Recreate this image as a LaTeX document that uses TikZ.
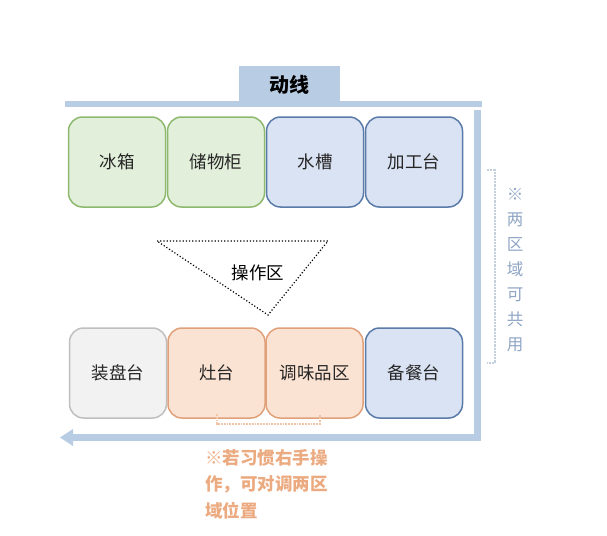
\documentclass[tikz,border=0pt]{standalone}
\usepackage{fontspec}
\setmainfont{Noto Sans CJK SC}
\usetikzlibrary{positioning}
\definecolor{flow}{HTML}{B8CCE4}
\definecolor{gfill}{HTML}{E2EFDA}
\definecolor{gdraw}{HTML}{8DB96F}
\definecolor{bfill}{HTML}{DAE3F3}
\definecolor{bdraw}{HTML}{5A7AA8}
\definecolor{nfill}{HTML}{F2F2F2}
\definecolor{ndraw}{HTML}{BFBFBF}
\definecolor{ofill}{HTML}{FBE3D3}
\definecolor{odraw}{HTML}{E0A07A}
\definecolor{otext}{HTML}{EBAA80}
\definecolor{btext}{HTML}{8FA5C4}
\definecolor{bdot}{HTML}{C5D0DE}
\tikzset{
  zone/.style={rounded corners=14pt, line width=1.5pt, minimum width=97pt, minimum height=90pt, font=\fontsize{17.5}{17.5}\selectfont, text=black!85},
  green/.style={zone, fill=gfill, draw=gdraw},
  blue/.style={zone, fill=bfill, draw=bdraw},
  grayz/.style={zone, fill=nfill, draw=ndraw},
  orange/.style={zone, fill=ofill, draw=odraw},
}
\begin{document}
\begin{tikzpicture}[x=1pt,y=-1pt]
\useasboundingbox (0,0) rectangle (607,535);
% flow bars
\fill[flow] (239,66) rectangle (340,103);
\node (dx) at (289.5,85) {\fontsize{20}{20}\selectfont\bfseries 动线};
\fill[flow] (65,101) rectangle (482,107);
\fill[flow] (474,110) rectangle (481,441);
\fill[flow] (72,434) rectangle (481,441);
\fill[flow] (60,437.5) -- (73,429) -- (73,446) -- cycle;
% top row
\node[green] (bx) at (117,162) {冰箱};
\node[green] (cwg) at (216,162) {储物柜};
\node[blue] (sc) at (315,162) {水槽};
\node[blue] (jgt) at (414,162) {加工台};
% bottom row
\node[grayz] (zpt) at (118,373) {装盘台};
\node[orange] (zt) at (216.5,373) {灶台};
\node[orange] (twp) at (314.5,373) {调味品区};
\node[blue] (bct) at (414,373) {备餐台};
% triangle
\coordinate (t1) at (157,241);
\coordinate (t2) at (328,241);
\coordinate (t3) at (268,315);
\draw[dotted, line width=1.2pt] (t1) -- (t2) -- (t3) -- cycle;
\node (czq) at (258,273) {\fontsize{17.5}{17.5}\selectfont 操作区};
% right bracket
\coordinate (r1) at (487,170);
\coordinate (r2) at (495,170);
\coordinate (r3) at (495,363);
\coordinate (r4) at (487,363);
\draw[bdot, densely dotted, line width=2.2pt] (r1) -- (r2) -- (r3) -- (r4);
\node[text=btext, align=center, font=\fontsize{16.5}{25}\selectfont, inner sep=0pt] (rn) at (515,270) {※\\两\\区\\域\\可\\共\\用};
% bottom bracket
\coordinate (b1) at (217,414);
\coordinate (b2) at (217,424);
\coordinate (b3) at (320,424);
\coordinate (b4) at (320,414);
\draw[otext!70, densely dotted, line width=1.8pt] (b1) -- (b2) -- (b3) -- (b4);
\node[text=otext, align=left, anchor=north west, font=\fontsize{17.5}{26.5}\selectfont\bfseries, inner sep=0pt] (on) at (205,449) {※若习惯右手操\\作，可对调两区\\域位置};
\end{tikzpicture}
\end{document}
